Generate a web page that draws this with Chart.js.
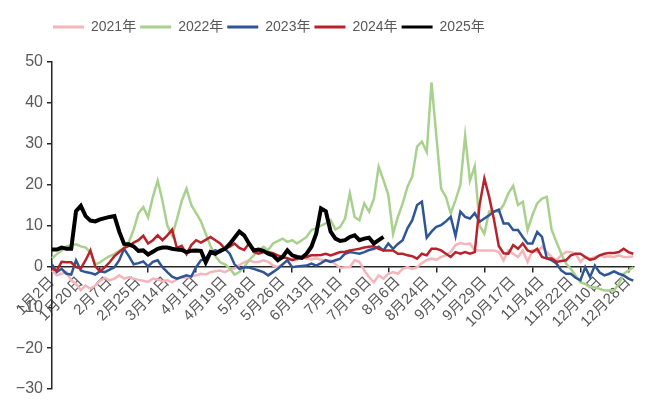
<!DOCTYPE html>
<html lang="zh">
<head>
<meta charset="UTF-8">
<title>2021-2025年 走势对比</title>
<script src="https://cdn.jsdelivr.net/npm/chart.js"></script>
<style>
  html, body { margin: 0; padding: 0; background: #fff; }
  #wrap { width: 648px; height: 403px; }
</style>
</head>
<body>
<div id="wrap"><canvas id="chart"></canvas></div>
<script>
  // 日期类目：2024 日历（含2月29日），数据中缺 5月1日
  const monthDays = [31, 29, 31, 30, 31, 30, 31, 31, 30, 31, 30, 31];
  const categories = [];
  monthDays.forEach((n, m) => {
    for (let d = 1; d <= n; d++) {
      if (m === 0 && d === 1) continue;
      if (m === 4 && d === 1) continue;
      categories.push((m + 1) + '月' + d + '日');
    }
  });

  const LABEL_EVERY = 18;   // 每18个类目显示一个日期
  const MARK_EVERY = 30;    // 刻度线间隔
  const STEP = 3;           // 读数间隔（类目数）

  const seriesNames = ['2021年', '2022年', '2023年', '2024年', '2025年'];

  const v2021 = [
    -1.0, -2.2, -1.8, -1.4, -3.4, -4.3, -5.8, -4.7, -5.5, -4.7,
    -3.5, -2.8, -3.4, -3.0, -2.2, -3.0, -2.6, -3.0, -3.3, -3.5,
    -3.8, -3.0, -3.2, -3.6, -3.4, -3.9, -3.2, -2.6, -2.8, -2.4,
    -2.2, -1.8, -2.0, -1.4, -1.2, -1.0, -1.4, -0.8, -0.5, 0.3,
    1.0, 1.5, 1.1, 1.1, 1.5, 1.1, 0.2, -0.2, 0.5, 1.5,
    1.8, 1.6, 2.0, 1.9, 1.7, 2.0, 1.6, 1.3, 1.4, 0.5,
    -0.4, -0.2, -0.2, 1.5, 1.1, -1.0, -2.6, -3.9, -2.2, -3.0,
    -1.8, -1.4, -1.8, -0.6, -0.2, -0.6, -0.2, 0.8, 1.5, 1.9,
    1.6, 2.3, 2.7, 3.5, 5.2, 5.7, 5.4, 5.6, 3.9, 3.9,
    3.9, 3.9, 3.9, 3.5, 1.5, 3.9, 3.1, 2.3, 3.9, 1.1,
    3.9, 3.5, 4.8, 3.5, 2.3, 1.5, 2.7, 3.5, 3.5, 3.1,
    1.1, 2.3, 1.9, 2.3, 2.7, 2.3, 2.5, 2.3, 2.7, 2.3,
    2.3, 2.5
  ];

  const v2022 = [
    2.0, 3.0, 3.9, 4.9, 5.2, 5.4, 4.9, 4.6, 3.5, 0.5,
    1.0, 1.8, 2.5, 3.0, 3.8, 4.5, 6.0, 9.0, 13.0, 14.5,
    12.0, 17.0, 21.0, 16.0, 10.0, 7.5, 11.5, 16.0, 19.0, 15.0,
    13.0, 11.0, 8.0, 5.0, 2.5, 1.0, 0.5, -0.5, -2.0, -1.4,
    -0.2, 1.5, 2.7, 3.9, 4.8, 4.0, 5.6, 6.2, 6.8, 6.0,
    6.4, 5.6, 6.4, 7.2, 8.9, 9.3, 10.0, 10.5, 11.3, 9.0,
    9.7, 11.7, 17.9, 12.1, 11.3, 15.4, 13.4, 16.5, 24.4, 21.1,
    17.5, 8.0, 12.1, 15.4, 19.5, 22.0, 29.3, 30.5, 28.0, 45.0,
    32.0, 19.0, 17.0, 13.0, 16.2, 19.9, 32.0, 21.0, 24.5, 10.0,
    8.0, 13.4, 13.4, 13.4, 15.0, 17.9, 19.7, 15.0, 15.8, 8.9,
    12.5, 15.4, 16.6, 17.0, 9.0, 6.0, 3.1, 0.7, -0.6, -2.2,
    -3.9, -4.3, -5.1, -5.1, -5.5, -5.9, -5.9, -5.9, -4.3, -1.8,
    -1.0, -0.2
  ];

  const v2023 = [
    0.5, -1.4, -0.6, -1.8, -2.0, 1.5, -1.0, -1.4, -1.6, -2.0,
    -1.2, -1.4, -0.8, -0.2, 1.5, 4.3, 2.5, 0.5, 0.8, 1.2,
    0.0, 1.1, 1.5, -0.2, -1.4, -2.5, -3.0, -2.6, -2.2, -2.5,
    -0.2, 1.5, 1.9, 3.5, 3.9, 3.5, 4.3, 3.1, 0.5, -0.6,
    -0.2, -0.3, -0.6, -1.0, -1.4, -2.2, -1.4, -0.6, 0.5, 1.5,
    -0.2, 0.0, 0.1, 0.2, 0.7, 0.2, 0.8, 1.5, 1.1, 1.5,
    1.9, 3.1, 3.5, 3.3, 3.1, 3.5, 4.0, 4.3, 4.8, 3.9,
    5.6, 4.3, 5.5, 6.4, 9.3, 11.3, 15.0, 15.8, 7.0, 8.5,
    9.7, 10.1, 11.0, 12.1, 7.4, 13.4, 12.1, 11.7, 13.0, 10.9,
    11.7, 12.5, 13.4, 13.9, 10.5, 10.5, 8.9, 8.9, 7.2, 5.6,
    5.6, 8.4, 7.2, 2.0, 1.5, 0.7, -1.0, -1.8, -1.8, -2.8,
    -3.4, -0.2, -2.6, 0.2, -1.5, -2.2, -1.8, -1.2, -1.8, -2.2,
    -3.0, -3.5
  ];

  const v2024 = [
    -0.6, -1.0, 1.1, 1.0, 1.0, -0.2, -0.5, 1.5, 3.9, 0.0,
    -1.2, -0.2, 1.0, 2.5, 3.5, 4.5, 5.0, 5.8, 6.4, 7.5,
    5.6, 6.4, 7.6, 6.4, 7.6, 9.0, 4.5, 5.0, 3.0, 5.2,
    6.4, 5.8, 6.5, 7.2, 6.4, 5.6, 4.3, 4.8, 5.6, 4.5,
    4.0, 5.6, 3.5, 3.1, 3.5, 3.5, 3.2, 2.7, 2.3, 2.0,
    1.5, 1.9, 2.1, 2.3, 2.7, 2.7, 2.8, 3.1, 2.7, 3.1,
    3.5, 3.6, 3.9, 4.1, 4.3, 4.6, 4.8, 4.9, 4.3, 3.9,
    3.9, 3.9, 3.1, 3.1, 2.7, 2.5, 1.9, 3.1, 2.7, 4.3,
    4.3, 3.9, 3.1, 2.3, 3.5, 3.1, 3.5, 3.1, 3.5, 15.0,
    21.5, 17.0, 11.5, 5.0, 3.2, 3.1, 5.2, 4.3, 5.6, 3.9,
    3.5, 4.3, 2.3, 1.9, 1.9, 1.1, 1.3, 1.5, 2.7, 3.1,
    3.1, 2.3, 1.6, 1.9, 2.7, 3.1, 3.3, 3.3, 3.5, 4.3,
    3.5, 3.1
  ];

  const v2025 = [
    4.1, 4.1, 4.6, 4.3, 4.3, 13.5, 14.8, 12.3, 11.2, 11.0,
    11.5, 11.8, 12.1, 12.3, 8.5, 5.5, 5.4, 4.9, 3.8, 3.9,
    2.9, 3.6, 4.3, 4.6, 4.6, 4.3, 4.1, 4.0, 3.5, 3.8,
    3.9, 3.8, 1.0, 3.5, 3.1, 3.8, 4.3, 5.5, 7.0, 8.5,
    7.6, 5.6, 3.9, 4.1, 3.8, 3.1, 2.7, 1.5, 2.3, 3.9,
    2.7, 2.3, 2.1, 3.1, 4.8, 8.0, 14.2, 13.5, 8.5, 6.8,
    6.2, 6.4, 7.2, 7.6, 6.4, 6.8, 7.0, 5.6, 6.4, 7.2
  ];

  const seriesValues = [v2021, v2022, v2023, v2024, v2025];
  const seriesColors = ['#F4B6BA', '#A9D18E', '#2F5597', '#B8232B', '#000000'];
  const seriesWidths = [2.5, 2.5, 2.5, 2.5, 4];

  // 读数放到对应的日期位置上，其余留空由折线连接
  function spread(vals) {
    const out = new Array(categories.length).fill(null);
    vals.forEach((v, k) => { out[k * STEP] = v; });
    return out;
  }

  Chart.defaults.font.family = "'Liberation Sans Narrow', 'Liberation Sans', 'Noto Sans CJK SC', sans-serif";
  Chart.defaults.color = '#595959';

  const axisColor = '#262626';

  new Chart(document.getElementById('chart'), {
    type: 'line',
    data: {
      labels: categories,
      datasets: seriesNames.map((name, i) => ({
        label: name,
        data: spread(seriesValues[i]),
        borderColor: seriesColors[i],
        backgroundColor: seriesColors[i],
        borderWidth: seriesWidths[i],
        pointRadius: 0,
        tension: 0,
        spanGaps: true,
        order: seriesNames.length - 1 - i
      }))
    },
    options: {
      responsive: true,
      maintainAspectRatio: false,
      animation: false,
      devicePixelRatio: 1,
      layout: { padding: { top: 16, right: 14, bottom: 0, left: 0 } },
      scales: {
        x: {
          type: 'category',
          position: { y: 0 },
          offset: false,
          border: { display: true, color: axisColor, width: 1.5 },
          grid: {
            drawOnChartArea: false,
            drawTicks: true,
            tickLength: 5,
            lineWidth: 1.5,
            color: ctx => (ctx.index % MARK_EVERY === 0 ? axisColor : 'rgba(0,0,0,0)')
          },
          ticks: {
            autoSkip: false,
            minRotation: 45,
            maxRotation: 45,
            padding: 2,
            font: { size: 15 },
            callback: (v, i) => (i % LABEL_EVERY === 0 ? categories[i] : '')
          }
        },
        y: {
          min: -30,
          max: 50,
          border: { display: true, color: axisColor, width: 1.5 },
          grid: { drawOnChartArea: false, tickLength: 5, lineWidth: 1.5, color: axisColor },
          ticks: {
            stepSize: 10,
            padding: 4,
            font: { size: 16 },
            callback: v => (v < 0 ? '\u2212' + Math.abs(v) : String(v))
          },
          afterFit: s => {
            s.width = 52;
            s.paddingBottom = 14;
          }
        }
      },
      plugins: {
        legend: {
          position: 'top',
          align: 'start',
          labels: {
            boxWidth: 31,
            boxHeight: 3,
            padding: 4,
            color: '#595959',
            font: { size: 14 },
            sort: (a, b) => a.datasetIndex - b.datasetIndex,
            generateLabels: chart =>
              Chart.defaults.plugins.legend.labels.generateLabels(chart).map(l => Object.assign(l, { lineWidth: 0 }))
          }
        },
        tooltip: { enabled: false }
      }
    },
    plugins: [{
      id: 'legendPlace',
      afterInit(chart) {
        const lg = chart.legend;
        if (!lg) return;
        const fit = lg.fit;
        lg.fit = function () { fit.call(this); this.height += 18; };
      },
      afterLayout(chart) {
        if (chart.legend) {
          chart.legend.left += 49;
          chart.legend.right += 49;
        }
      }
    }]
  });
</script>
</body>
</html>
